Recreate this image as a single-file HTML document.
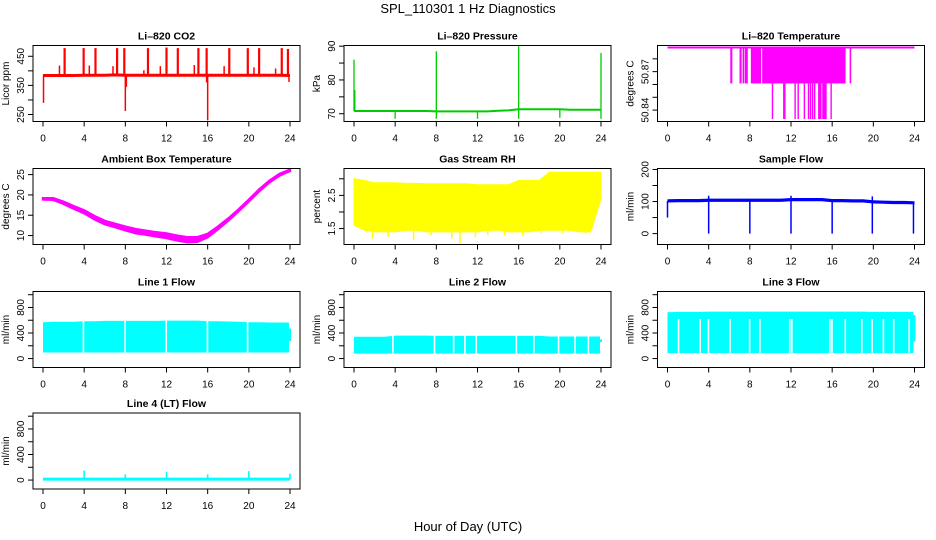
<!DOCTYPE html>
<html><head><meta charset="utf-8"><title>SPL_110301 1 Hz Diagnostics</title>
<style>
html,body{margin:0;padding:0;background:#fff;}
svg{display:block;font-family:"Liberation Sans",sans-serif;}
</style></head>
<body>
<svg id="fig" xmlns="http://www.w3.org/2000/svg" width="936" height="540" viewBox="0 0 936 540">
<rect x="0" y="0" width="936" height="540" fill="#fff"/>
<text x="468" y="13" text-anchor="middle" font-size="13">SPL_110301  1 Hz Diagnostics</text>
<text x="468" y="531" text-anchor="middle" font-size="13">Hour of Day (UTC)</text>
</svg>
<script>
// ---------- data ----------
const hourTicks = [0,4,8,12,16,20,24];
const hours = [0,1,2,3,4,5,6,7,8,9,10,11,12,13,14,15,16,17,18,19,20,21,22,23,24];

// CO2
const co2Base = [384,384,384,384,385,385,385,386,385,385,385,385,385,385,385,385,385,385,385,385,385,385,385,385,384];
const co2UpTimes = [2.1,3.95,5.1,7.2,7.9,10.2,12.0,13.1,15.1,15.9,18.1,19.9,21.0,23.2,23.8];
const co2UpVals  = [478,478,478,478,478,478,480,478,478,478,478,478,478,478,475];
const co2MidTimes = [1.6,4.5,6.8,9.8,11.4,14.7,17.6,20.5,22.6];
const co2MidVals  = [418,418,416,402,416,420,416,412,408];
const co2DownTimes = [0.05,8.0,8.1,16.0,15.9,23.9];
const co2DownVals  = [290,262,345,230,360,362];

// Pressure
const presBase = [70.8,70.8,70.8,70.8,70.8,70.8,70.8,70.8,70.7,70.7,70.7,70.7,70.7,70.7,70.9,71.0,71.3,71.3,71.3,71.3,71.3,71.2,71.2,71.2,71.2];
const presSpikeTimes = [0.0,0.08,8.0,16.0,24.0];
const presSpikeVals  = [86,77,88.5,90,88];
const presDipTimes = [4,8,12,16,20,24];
const presDipVals  = [68.5,68.5,68.5,68.5,68.8,68.5];

// Li-820 temperature
const ltTop = 50.8888, ltMid = 50.8608, ltLow = 50.8330;
const ltMidStart = [6.1,7.0,7.3,7.5,8.1,9.2,17.7];
const ltMidEnd   = [6.3,7.2,7.4,7.8,9.1,17.3,17.8];
const ltLowTimes = [10.2,11.3,11.4,12.4,12.7,13.3,13.7,13.9,14.1,14.3,14.7,14.8,14.9,15.1,15.2,15.3,15.4,15.9];

// Ambient box temperature
const ambTemp  = [19.2,19.2,18.3,17.2,16.2,14.8,13.6,12.9,12.2,11.6,11.2,10.8,10.5,10.0,9.6,9.6,10.4,12.2,14.2,16.4,18.8,21.3,23.5,25.2,26.2];
const ambNoise = [0.3,0.4,0.5,0.6,0.7,0.8,0.8,0.8,0.9,1.0,1.0,1.0,1.1,1.2,1.2,1.1,0.8,0.6,0.5,0.4,0.4,0.4,0.4,0.4,0.3];

// Gas stream RH
const rhUpper = [3.0,2.95,2.88,2.88,2.88,2.86,2.86,2.85,2.85,2.85,2.85,2.85,2.82,2.82,2.82,2.82,2.95,2.95,2.95,3.2,3.2,3.2,3.2,3.2,3.2];
const rhLower = [1.6,1.45,1.4,1.4,1.4,1.45,1.45,1.4,1.4,1.4,1.4,1.4,1.4,1.45,1.45,1.4,1.4,1.4,1.45,1.45,1.45,1.45,1.4,1.4,2.4];
const rhDipTimes = [1.8,3.3,5.8,7.5,9.5,10.3,11.8,13.0,14.6,16.4,18.2,20.3,22.5];
const rhDipVals  = [1.2,1.25,1.15,1.3,1.2,1.05,1.25,1.3,1.3,1.3,1.35,1.35,1.35];

// Sample flow
const sfLevel = [102,103,103,103,104,104,104,104,104,104,104,104,106,106,106,106,103,103,102,102,99,98,97,97,96];
const sfDropTimes = [0.0,4.0,8.0,12.0,16.0,19.9,23.9];
const sfDropVals  = [50,0,0,0,0,0,0];
const sfUpTimes = [4.0,12.0,19.9];
const sfUpVals  = [118,118,116];

// Line flows
const l1Top = [570,575,575,575,585,585,590,590,590,590,590,590,595,595,595,595,585,585,580,575,570,570,565,565,470];
const l1Bottom = 95;
const l1Gaps = [3.85,7.9,11.9,15.9,19.8];
const l2Top = [340,340,340,340,360,360,360,360,355,355,355,355,355,355,355,355,355,355,355,345,345,345,345,345,300];
const l2Bottom = 78;
const l2Gaps = [3.7,7.75,9.6,10.7,11.8,15.7,17.4,19.8,21.4,22.7];
const l3Top = [725,730,730,730,735,735,735,735,735,735,735,735,735,735,735,735,735,735,735,735,730,730,730,730,680];
const l3Bottom = 85;
const l3Gaps = [1.0,3.1,3.9,6.0,7.9,8.9,11.8,12.0,15.7,15.9,17.2,18.8,19.8,20.9,21.9,23.4];
const l4Base = 15;
const l4SpikeTimes = [4,8,12,16,20,24];
const l4SpikeVals  = [150,90,130,90,140,100];

// ---------- helpers ----------
const NS = "http://www.w3.org/2000/svg";
const fig = document.getElementById('fig');
function add(parent, tag, attrs, name){
  const el = document.createElementNS(NS, tag);
  for (const k in attrs) el.setAttribute(k, attrs[k]);
  
  
  parent.appendChild(el);
  return el;
}
const colLeft = [33, 344, 657.5];
const rowTop = [45.5, 168.5, 291.5, 413];
const PW = 267, PH = 76;

function panel(col,row,cfg){
  const L = colLeft[col], T = rowTop[row];
  const g = add(fig,'g',{},cfg.name+'-panel');
  const x = h => L + 10 + h*(247/24);
  const y = v => T + PH - (v - cfg.ylo)/(cfg.yhi - cfg.ylo)*PH;
  const clipId = 'clip-'+cfg.name;
  const cp = add(g,'clipPath',{id:clipId},cfg.name+'-clip');
  add(cp,'rect',{x:L,y:T,width:PW,height:PH},cfg.name+'-clip-rect');
  const plot = add(g,'g',{'clip-path':'url(#'+clipId+')'},cfg.name+'-plot-area');
  // title
  const t = add(g,'text',{x:L+PW/2,y:T-6,'text-anchor':'middle','font-size':'10.5','font-weight':'bold'},cfg.name+'-title');
  t.textContent = cfg.title;
  // x axis
  add(g,'line',{x1:x(0),y1:T+PH,x2:x(24),y2:T+PH,stroke:'#000','stroke-width':1},cfg.name+'-x-axis-line');
  hourTicks.forEach(h=>{
    add(g,'line',{x1:x(h),y1:T+PH,x2:x(h),y2:T+PH+5,stroke:'#000','stroke-width':1},cfg.name+'-x-tick');
    const tl = add(g,'text',{x:x(h),y:T+PH+20,'text-anchor':'middle','font-size':'10'},cfg.name+'-x-tick-label');
    tl.textContent = h;
  });
  // y axis
  const yt = cfg.yticks;
  add(g,'line',{x1:L,y1:y(yt[0]),x2:L,y2:y(yt[yt.length-1]),stroke:'#000','stroke-width':1},cfg.name+'-y-axis-line');
  yt.forEach(v=>{
    add(g,'line',{x1:L-5,y1:y(v),x2:L,y2:y(v),stroke:'#000','stroke-width':1},cfg.name+'-y-tick');
  });
  cfg.ylabels.forEach(v=>{
    const px = L-9, py = y(v);
    const tl = add(g,'text',{x:px,y:py,'text-anchor':'middle','font-size':'10',transform:'rotate(-90 '+px+' '+py+')'},cfg.name+'-y-tick-label');
    tl.textContent = cfg.fmt ? cfg.fmt(v) : v;
  });
  const ax = L-24, ay = T+PH/2;
  const yl = add(g,'text',{x:ax,y:ay,'text-anchor':'middle','font-size':'10',transform:'rotate(-90 '+ax+' '+ay+')'},cfg.name+'-y-axis-title');
  yl.textContent = cfg.ylab;
  cfg.draw(plot,x,y);
  add(g,'rect',{x:L,y:T,width:PW,height:PH,fill:'none',stroke:'#000','stroke-width':1},cfg.name+'-frame');
}
function pts(xs,ys,x,y){ return xs.map((h,i)=>x(h).toFixed(1)+','+y(ys[i]).toFixed(1)).join(' '); }
function vline(p,x1,y1,y2,color,w,name){ return add(p,'line',{x1:x1,y1:y1,x2:x1,y2:y2,stroke:color,'stroke-width':w},name); }

// ---------- panels ----------
panel(0,0,{name:'co2',title:'Li\u2013820 CO2',ylab:'Licor ppm',ylo:226,yhi:487,yticks:[250,300,350,400,450],ylabels:[250,350,450],
  draw:(p,x,y)=>{
    co2UpTimes.forEach((t,i)=>vline(p,x(t),y(co2Base[Math.round(t)]),y(co2UpVals[i]),'#ff0000',2.2,'co2-spike-up'));
    co2MidTimes.forEach((t,i)=>vline(p,x(t),y(co2Base[Math.round(t)]),y(co2MidVals[i]),'#ff0000',1.5,'co2-spike-mid'));
    co2DownTimes.forEach((t,i)=>vline(p,x(t),y(co2Base[Math.round(t)]),y(co2DownVals[i]),'#ff0000',1.5,'co2-spike-down'));
    add(p,'polyline',{points:pts(hours,co2Base,x,y),fill:'none',stroke:'#ff0000','stroke-width':3},'co2-series');
  }});

panel(1,0,{name:'pressure',title:'Li\u2013820 Pressure',ylab:'kPa',ylo:67.7,yhi:90.2,yticks:[70,75,80,85,90],ylabels:[70,80,90],
  draw:(p,x,y)=>{
    presDipTimes.forEach((t,i)=>vline(p,x(t),y(presBase[Math.min(24,Math.round(t))]),y(presDipVals[i]),'#00cd00',1.3,'pressure-dip'));
    presSpikeTimes.forEach((t,i)=>vline(p,x(t),y(presBase[Math.round(t)]),y(presSpikeVals[i]),'#00cd00',1.3,'pressure-spike'));
    add(p,'polyline',{points:pts(hours,presBase,x,y),fill:'none',stroke:'#00cd00','stroke-width':2},'pressure-series');
  }});

panel(2,0,{name:'li-temp',title:'Li\u2013820 Temperature',ylab:'degrees C',ylo:50.8311,yhi:50.8904,yticks:[50.84,50.85,50.86,50.87,50.88],ylabels:[50.84,50.87],fmt:v=>v.toFixed(2),
  draw:(p,x,y)=>{
    ltMidStart.forEach((s,i)=>add(p,'rect',{x:x(s),y:y(ltTop),width:Math.max(1.5,x(ltMidEnd[i])-x(s)),height:y(ltMid)-y(ltTop),fill:'#ff00ff'},'li-temp-mid-block'));
    ltLowTimes.forEach(t=>vline(p,x(t),y(ltMid),y(ltLow),'#ff00ff',1.4,'li-temp-low-drop'));
    add(p,'line',{x1:x(0),y1:y(ltTop),x2:x(24),y2:y(ltTop),stroke:'#ff00ff','stroke-width':2},'li-temp-series');
  }});

panel(0,1,{name:'ambient',title:'Ambient Box Temperature',ylab:'degrees C',ylo:7.8,yhi:26.5,yticks:[10,15,20,25],ylabels:[10,15,20,25],
  draw:(p,x,y)=>{
    const low = ambTemp.map((v,i)=>v-ambNoise[i]);
    add(p,'polygon',{points:pts(hours,ambTemp,x,y)+' '+pts(hours.slice().reverse(),low.slice().reverse(),x,y),fill:'#ff00ff',stroke:'#ff00ff','stroke-width':2.5},'ambient-series');
  }});

panel(1,1,{name:'rh',title:'Gas Stream RH',ylab:'percent',ylo:1.02,yhi:3.31,yticks:[1.5,2,2.5,3],ylabels:[1.5,2.5],
  draw:(p,x,y)=>{
    add(p,'polygon',{points:pts(hours,rhUpper,x,y)+' '+pts(hours.slice().reverse(),rhLower.slice().reverse(),x,y),fill:'#ffff00',stroke:'#ffff00','stroke-width':1},'rh-series');
    rhDipTimes.forEach((t,i)=>vline(p,x(t),y(2),y(rhDipVals[i]),'#ffff00',1.5,'rh-dip'));
  }});

panel(2,1,{name:'sample-flow',title:'Sample Flow',ylab:'ml/min',ylo:-34,yhi:203,yticks:[0,50,100,150,200],ylabels:[0,100,200],
  draw:(p,x,y)=>{
    const hi = sfLevel.map(v=>v+5), lo = sfLevel.map(v=>v-5);
    add(p,'polygon',{points:pts(hours,hi,x,y)+' '+pts(hours.slice().reverse(),lo.slice().reverse(),x,y),fill:'#0000ff'},'sample-flow-series');
    sfDropTimes.forEach((t,i)=>vline(p,x(t),y(sfLevel[Math.round(t)]),y(sfDropVals[i]),'#0000ff',1.5,'sample-flow-drop'));
    sfUpTimes.forEach((t,i)=>vline(p,x(t),y(sfLevel[Math.round(t)]),y(sfUpVals[i]),'#0000ff',1.5,'sample-flow-spike'));
  }});

function flowBand(p,x,y,top,bottom,gaps,gapTopVal,name){
  const bot = top.map(()=>bottom);
  add(p,'polygon',{points:pts(hours.slice(0,24),top.slice(0,24),x,y)+' '+x(23.9)+','+y(top[23])+' '+x(23.9)+','+y(bottom)+' '+pts(hours.slice(0,24).reverse(),bot.slice(0,24).reverse(),x,y),fill:'#00ffff'},name+'-series');
  add(p,'rect',{x:x(23.9),y:y(top[24]),width:x(24)-x(23.9)+1,height:y(bottom+180)-y(top[24]),fill:'#00ffff'},name+'-tail');
  gaps.forEach(t=>add(p,'rect',{x:x(t),y:y(gapTopVal===null?top[Math.round(t)]+10:gapTopVal),width:1.6,height:y(bottom-10)-y(gapTopVal===null?top[Math.round(t)]+10:gapTopVal),fill:'#fff'},name+'-gap'));
}
const flowCfg = {ylo:-140,yhi:1050,yticks:[0,200,400,600,800,1000],ylabels:[0,400,800],ylab:'ml/min'};

panel(0,2,Object.assign({},flowCfg,{name:'line1-flow',title:'Line 1 Flow',
  draw:(p,x,y)=>flowBand(p,x,y,l1Top,l1Bottom,l1Gaps,null,'line1-flow')}));
panel(1,2,Object.assign({},flowCfg,{name:'line2-flow',title:'Line 2 Flow',
  draw:(p,x,y)=>flowBand(p,x,y,l2Top,l2Bottom,l2Gaps,null,'line2-flow')}));
panel(2,2,Object.assign({},flowCfg,{name:'line3-flow',title:'Line 3 Flow',
  draw:(p,x,y)=>flowBand(p,x,y,l3Top,l3Bottom,l3Gaps,620,'line3-flow')}));
panel(0,3,Object.assign({},flowCfg,{name:'line4-flow',title:'Line 4 (LT) Flow',
  draw:(p,x,y)=>{
    add(p,'line',{x1:x(0),y1:y(l4Base),x2:x(24),y2:y(l4Base),stroke:'#00ffff','stroke-width':3},'line4-flow-series');
    l4SpikeTimes.forEach((t,i)=>vline(p,x(t),y(l4Base),y(l4SpikeVals[i]),'#00ffff',1.6,'line4-flow-spike'));
  }}));
</script>
</body></html>
